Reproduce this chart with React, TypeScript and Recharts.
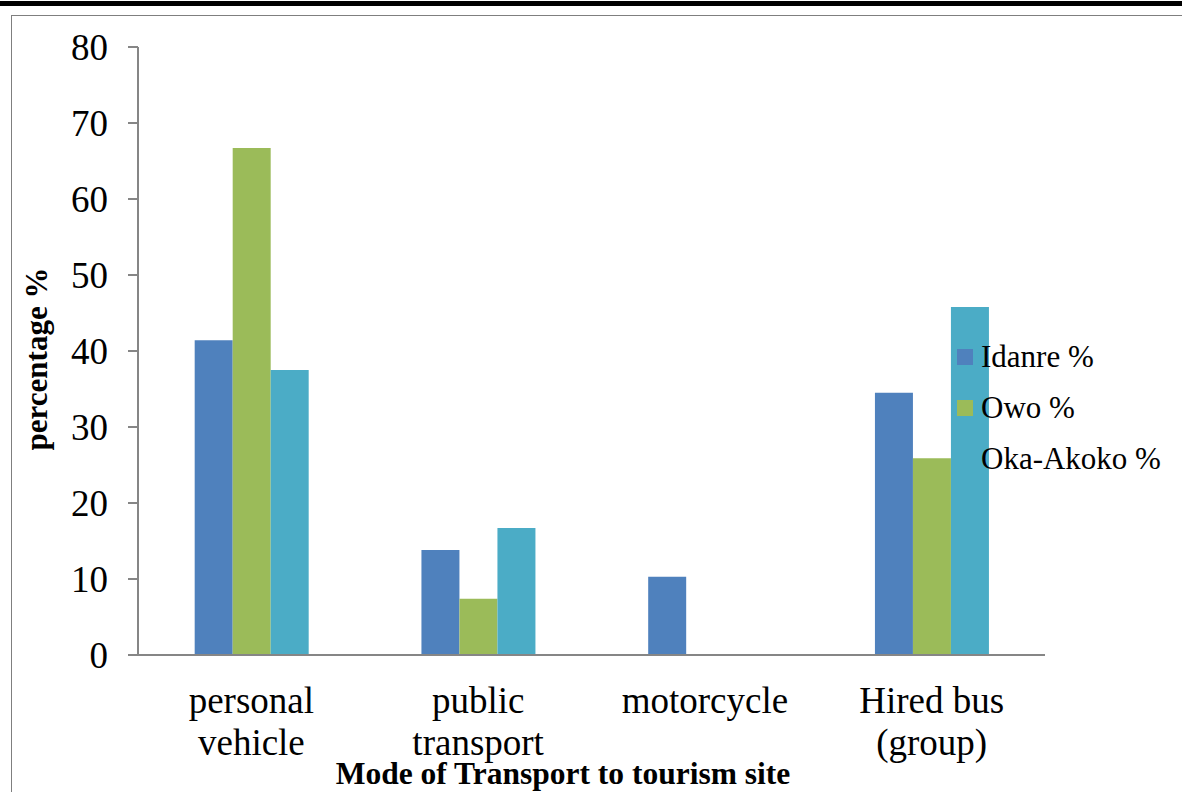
import React from "react";
import { BarChart, Bar, XAxis, YAxis, Label } from "recharts";

// Mode of transport to tourism site, by town (%)
const categories = ["personal vehicle", "public transport", "motorcycle", "Hired bus (group)"];
const categoryLines = [["personal", "vehicle"], ["public", "transport"], ["motorcycle"], ["Hired bus", "(group)"]];
const idanre = [41.4, 13.8, 10.3, 34.5];
const owo = [66.7, 7.4, 0, 25.9];
const okaAkoko = [37.5, 16.7, 0, 45.8];
const yTicks = [0, 10, 20, 30, 40, 50, 60, 70, 80];

const series = [
  { key: "idanre", name: "Idanre %", color: "#4F81BD" },
  { key: "owo", name: "Owo %", color: "#9BBB59" },
  { key: "oka", name: "Oka-Akoko %", color: "#4BACC6" },
];

const data = categories.map((c, i) => ({
  category: c,
  idanre: idanre[i],
  owo: owo[i],
  oka: okaAkoko[i],
}));

const FONT = '"Liberation Serif", "Times New Roman", serif';
const AXIS = "#868686";

function CategoryTick(props: any) {
  const { x, y, payload } = props;
  const idx = categories.indexOf(payload.value);
  const lines = categoryLines[idx] || [payload.value];
  return (
    <text x={x} y={y} textAnchor="middle" fontFamily={FONT} fontSize={37} fill="#000">
      {lines.map((l, i) => (
        <tspan key={i} x={x} dy={i === 0 ? 50 : 42}>
          {l}
        </tspan>
      ))}
    </text>
  );
}

// legend sits on top of the plot, like the original
function LegendBox() {
  return (
    <div style={{ position: "absolute", left: 957, top: 331, fontFamily: FONT, fontSize: 31, color: "#000" }}>
      {series.map((s) => (
        <div key={s.key} style={{ display: "flex", alignItems: "center", height: 51 }}>
          <span style={{ width: 16, height: 16, background: s.color, marginRight: 8, display: "inline-block" }} />
          <span>{s.name}</span>
        </div>
      ))}
    </div>
  );
}

export default function App() {
  return (
    <div style={{ position: "absolute", left: 0, top: 0, width: 1182, height: 792, background: "#fff", overflow: "hidden" }}>
      <div style={{ position: "absolute", left: 0, top: 1, width: 1182, height: 5, background: "#000" }} />
      <div
        style={{
          position: "absolute",
          left: 11,
          top: 15,
          width: 1200,
          height: 800,
          borderLeft: "1.5px solid #7f7f7f",
          borderTop: "1.5px solid #7f7f7f",
        }}
      />
      <div style={{ position: "absolute", left: 0, top: 0 }}>
        <BarChart
          width={1182}
          height={792}
          data={data}
          margin={{ top: 47, right: 137, left: 0, bottom: 0 }}
          barCategoryGap="25%"
          barGap={0}
        >
          <XAxis
            dataKey="category"
            height={137}
            axisLine={{ stroke: AXIS, strokeWidth: 2 }}
            tickLine={false}
            tick={<CategoryTick />}
            interval={0}
          >
            <Label
              content={() => (
                <text x={563} y={784} textAnchor="middle" fontFamily={FONT} fontWeight="bold" fontSize={31.5} fill="#000">
                  Mode of Transport to tourism site
                </text>
              )}
            />
          </XAxis>
          <YAxis
            width={138}
            domain={[0, 80]}
            ticks={yTicks}
            interval={0}
            axisLine={{ stroke: AXIS, strokeWidth: 2 }}
            tickLine={{ stroke: AXIS, strokeWidth: 2 }}
            tickSize={10}
            tickMargin={20}
            tick={{ fontFamily: FONT, fontSize: 37, fill: "#000" }}
          >
            <Label
              content={() => (
                <text
                  x={0}
                  y={0}
                  transform="translate(47, 359) rotate(-90)"
                  textAnchor="middle"
                  fontFamily={FONT}
                  fontWeight="bold"
                  fontSize={31}
                  fill="#000"
                >
                  percentage %
                </text>
              )}
            />
          </YAxis>
          {series.map((s) => (
            <Bar key={s.key} dataKey={s.key} name={s.name} fill={s.color} isAnimationActive={false} />
          ))}
        </BarChart>
      </div>
      <LegendBox />
    </div>
  );
}
